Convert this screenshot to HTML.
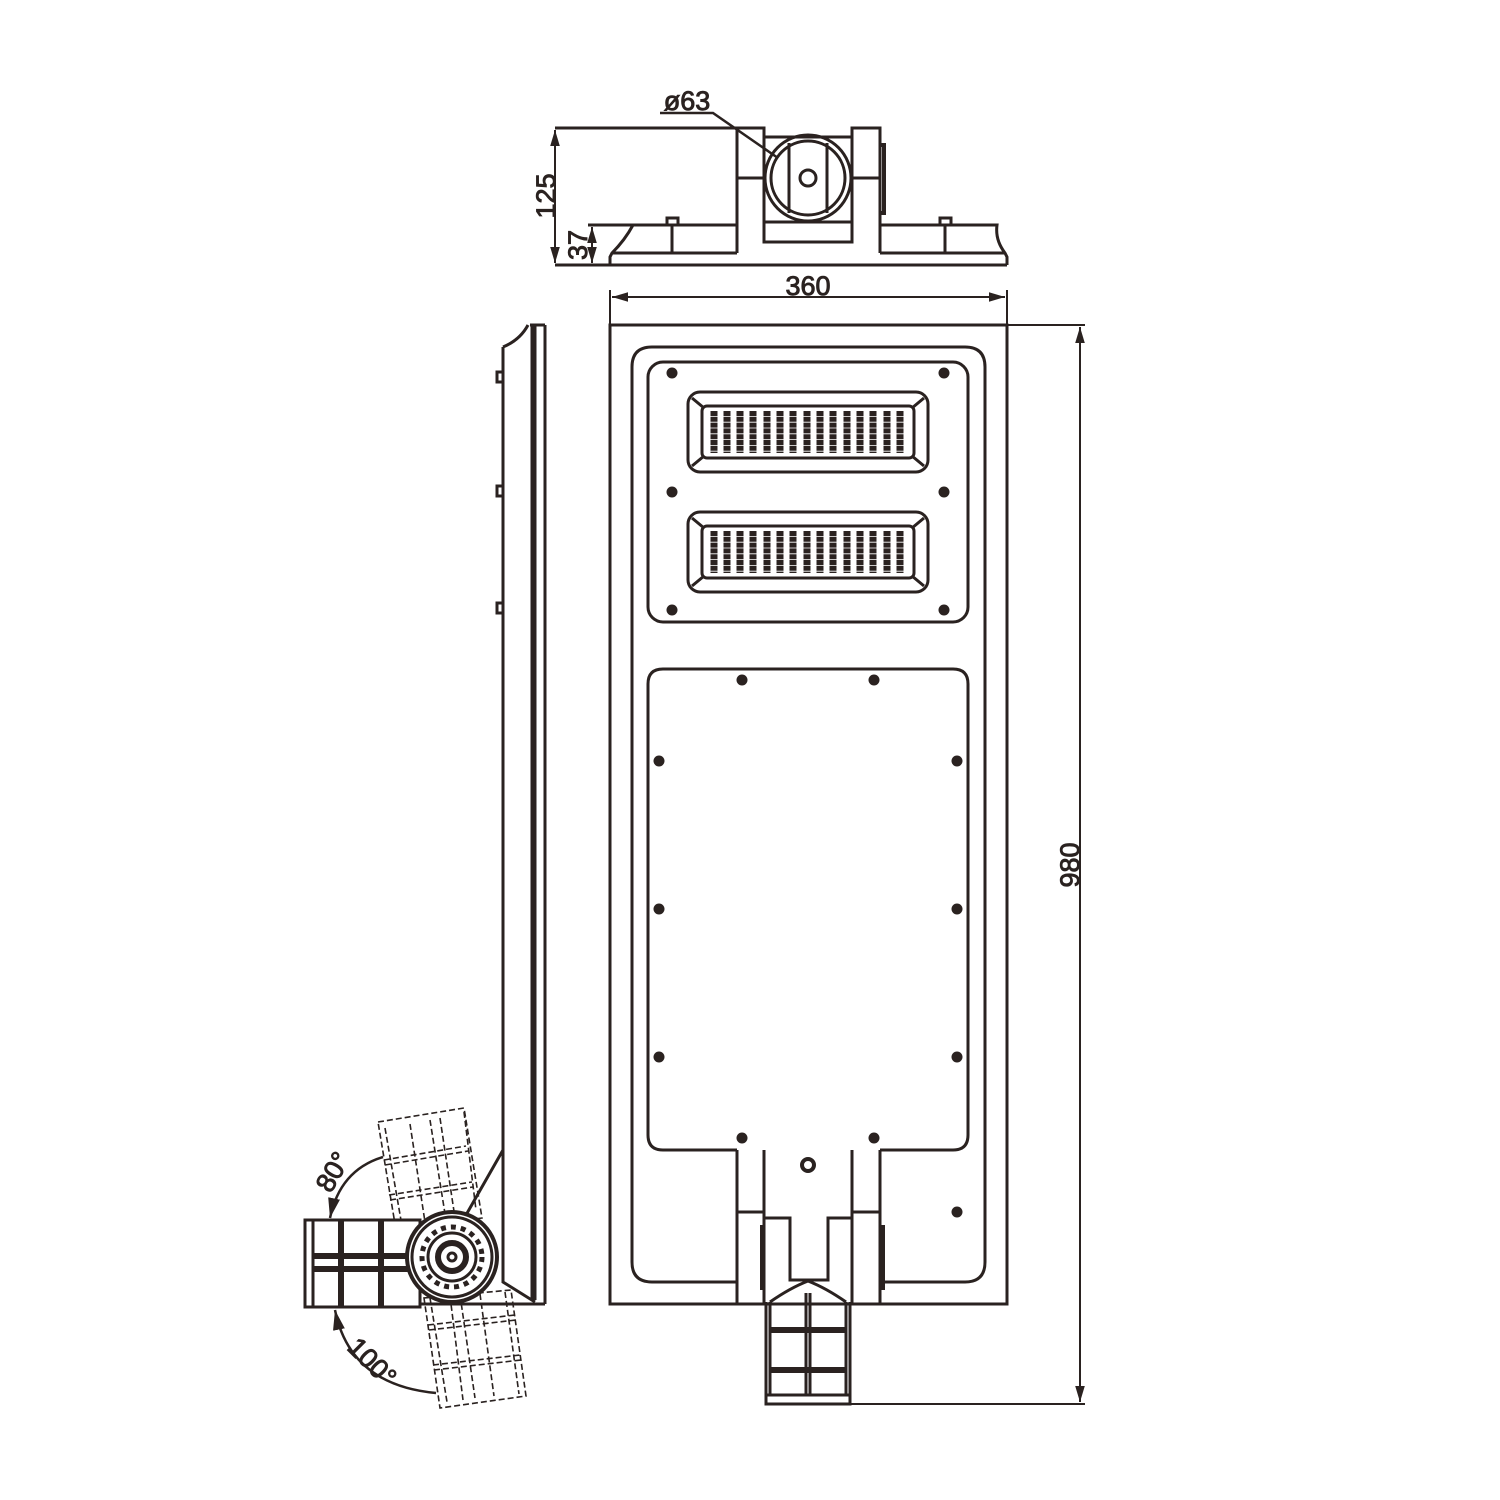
<!DOCTYPE html>
<html><head><meta charset="utf-8"><style>html,body{margin:0;padding:0;background:#fff}svg{display:block}text{fill:#2a2220;stroke:#2a2220;stroke-width:0.9}</style></head>
<body>
<svg width="1500" height="1500" viewBox="0 0 1500 1500" xmlns="http://www.w3.org/2000/svg" fill="none" stroke="#2a2220" stroke-width="3" font-family="Liberation Sans, sans-serif">
<defs>
<marker id="ar" viewBox="0 0 10 10" refX="10" refY="5" markerWidth="8" markerHeight="8" orient="auto-start-reverse"><path d="M0,2 L10,5 L0,8z" fill="#2a2220" stroke="none"/></marker>
<g id="led">
<rect x="0" y="0" width="240" height="80" rx="12"/>
<rect x="14" y="14" width="212" height="52" rx="5"/>
<path d="M4,6 L16,16 M236,6 L224,16 M4,74 L16,64 M236,74 L224,64"/>
<g stroke-width="7" stroke-dasharray="5,0.8">
<path d="M26,19V61M39,19V61M52,19V61M65,19V61M79,19V61M92,19V61M105,19V61M119,19V61M132,19V61M145,19V61M159,19V61M172,19V61M185,19V61M199,19V61M212,19V61"/>
</g>
</g>
</defs>

<!-- TOP VIEW -->
<g>
<path d="M555,128H737M555,265H1007"/>
<line x1="555" y1="130" x2="555" y2="263" marker-start="url(#ar)" marker-end="url(#ar)" stroke-width="2"/>
<text x="546" y="196" transform="rotate(-90 546 196)" font-size="27" text-anchor="middle" dominant-baseline="central">125</text>
<path d="M588,225H737"/>
<line x1="592" y1="227" x2="592" y2="263" marker-start="url(#ar)" marker-end="url(#ar)" stroke-width="2"/>
<text x="578" y="245" transform="rotate(-90 578 245)" font-size="27" text-anchor="middle" dominant-baseline="central">37</text>
<path d="M610,265V257L612,253 Q625,240 633,225 M612,253H737 M1007,265V257L1005,253 Q995,240 997,225 L880,225 M1005,253H880"/>
<path d="M667,225V218H678V225M672,225V253M940,225V218H951V225M945,225V253"/>
<path d="M737,253V128H764V242H852V128H880V253"/>
<path d="M737,178H764M852,178H880M764,222H852M764,137H852"/>
<path d="M880,145H884V213H880" stroke-width="4"/>
<circle cx="808" cy="178" r="43"/>
<circle cx="808" cy="178" r="37"/>
<path d="M789,143V213M827,143V213"/>
<circle cx="808" cy="178" r="8"/>
<text x="687" y="110" font-size="27" text-anchor="middle">ø63</text>
<path d="M660,113H713L778,158" stroke-width="2.5"/>
</g>

<line x1="612" y1="297" x2="1005" y2="297" marker-start="url(#ar)" marker-end="url(#ar)" stroke-width="2"/>
<path d="M610,290V325M1007,290V325" stroke-width="2"/>
<text x="808" y="295" font-size="27" text-anchor="middle">360</text>

<path d="M1007,325H1085M850,1404H1085" stroke-width="2"/>
<line x1="1080" y1="327" x2="1080" y2="1402" marker-start="url(#ar)" marker-end="url(#ar)" stroke-width="2"/>
<text x="1070" y="865" transform="rotate(-90 1070 865)" font-size="27" text-anchor="middle" dominant-baseline="central">980</text>

<!-- MAIN FRONT -->
<rect x="610" y="325" width="397" height="979"/>
<path d="M737,1282H652Q632,1282 632,1262V367Q632,347 652,347H965Q985,347 985,367V1262Q985,1282 965,1282H880"/>
<rect x="648" y="362" width="320" height="260" rx="15"/>
<path d="M737,1150H663Q648,1150 648,1135V684Q648,669 663,669H953Q968,669 968,684V1135Q968,1150 953,1150H880"/>
<use href="#led" x="688" y="392"/>
<use href="#led" x="688" y="512"/>
<g fill="#2a2220" stroke="none">
<circle cx="672" cy="373" r="5.5"/><circle cx="944" cy="373" r="5.5"/>
<circle cx="672" cy="492" r="5.5"/><circle cx="944" cy="492" r="5.5"/>
<circle cx="672" cy="610" r="5.5"/><circle cx="944" cy="610" r="5.5"/>
<circle cx="742" cy="680" r="5.5"/><circle cx="874" cy="680" r="5.5"/>
<circle cx="659" cy="761" r="5.5"/><circle cx="957" cy="761" r="5.5"/>
<circle cx="659" cy="909" r="5.5"/><circle cx="957" cy="909" r="5.5"/>
<circle cx="659" cy="1057" r="5.5"/><circle cx="957" cy="1057" r="5.5"/>
<circle cx="742" cy="1138" r="5.5"/><circle cx="874" cy="1138" r="5.5"/>
<circle cx="957" cy="1212" r="5.5"/>
</g>
<circle cx="808" cy="1165" r="6" stroke-width="4"/>
<path d="M737,1150V1304M764,1150V1304M852,1150V1304M880,1150V1304M737,1212H764M852,1212H880"/>
<path d="M764,1218H790V1280H828V1218H852" />
<path d="M883,1225V1290M762,1225V1290" stroke-width="4"/>
<path d="M770,1302Q790,1288 808,1281Q826,1288 846,1302"/>
<path d="M766,1302V1404H850V1302M770,1302V1395H846V1302M766,1395H850"/>
<path d="M806,1293V1395M810,1293V1395"/>
<path d="M770,1330H846M770,1370H846" stroke-width="6"/>

<!-- SIDE VIEW -->
<path d="M545,325V1304M532,325V1300M535,325V1300M530,325H545M503,347Q520,340 528,325"/>
<path d="M503,347V1150"/>
<path d="M503,372H497V382H503M503,486H497V496H503M503,603H497V613H503"/>
<path d="M503,1150L466,1215M503,1150V1282L535,1302M420,1304H545"/>
<g stroke-width="1.6" stroke-dasharray="6,3">
<path d="M378,1122L464,1108L482,1218L396,1230Z"/>
<path d="M385,1128L402,1226M410,1124L425,1222M430,1120L446,1220M440,1118L455,1218M464,1112L476,1210"/>
<path d="M384,1160L466,1146M385,1165L468,1151M389,1195L472,1182M390,1200L473,1187"/>
<path d="M424,1298L511,1290L526,1396L440,1408Z"/>
<path d="M430,1298L447,1402M450,1296L463,1400M460,1295L475,1398M480,1294L494,1396M505,1292L519,1394"/>
<path d="M428,1325L515,1315M429,1330L516,1320M433,1365L520,1355M434,1370L521,1360"/>
</g>
<rect x="305" y="1220" width="115" height="87" fill="#fff"/>
<path d="M313,1220V1307"/>
<path d="M341,1220V1307M381,1220V1307M313,1256H410M313,1269H410" stroke-width="6"/>
<circle cx="452" cy="1257" r="45" fill="#fff" stroke-width="4"/>
<circle cx="452" cy="1257" r="40"/>
<circle cx="452" cy="1257" r="30" stroke-width="5" stroke-dasharray="5,5"/>
<circle cx="452" cy="1257" r="24"/>
<circle cx="452" cy="1257" r="14" stroke-width="6"/>
<circle cx="452" cy="1257" r="4"/>
<path d="M383,1157Q340,1170 330,1218" stroke-width="2.5" marker-end="url(#ar)"/>
<path d="M335,1310Q350,1385 436,1393" stroke-width="2.5" marker-start="url(#ar)"/>
<text x="333" y="1172" transform="rotate(-60 333 1172)" font-size="27" text-anchor="middle" dominant-baseline="central">80°</text>
<text x="372" y="1362" transform="rotate(45 372 1362)" font-size="27" text-anchor="middle" dominant-baseline="central">100°</text>
</svg>
</body></html>
